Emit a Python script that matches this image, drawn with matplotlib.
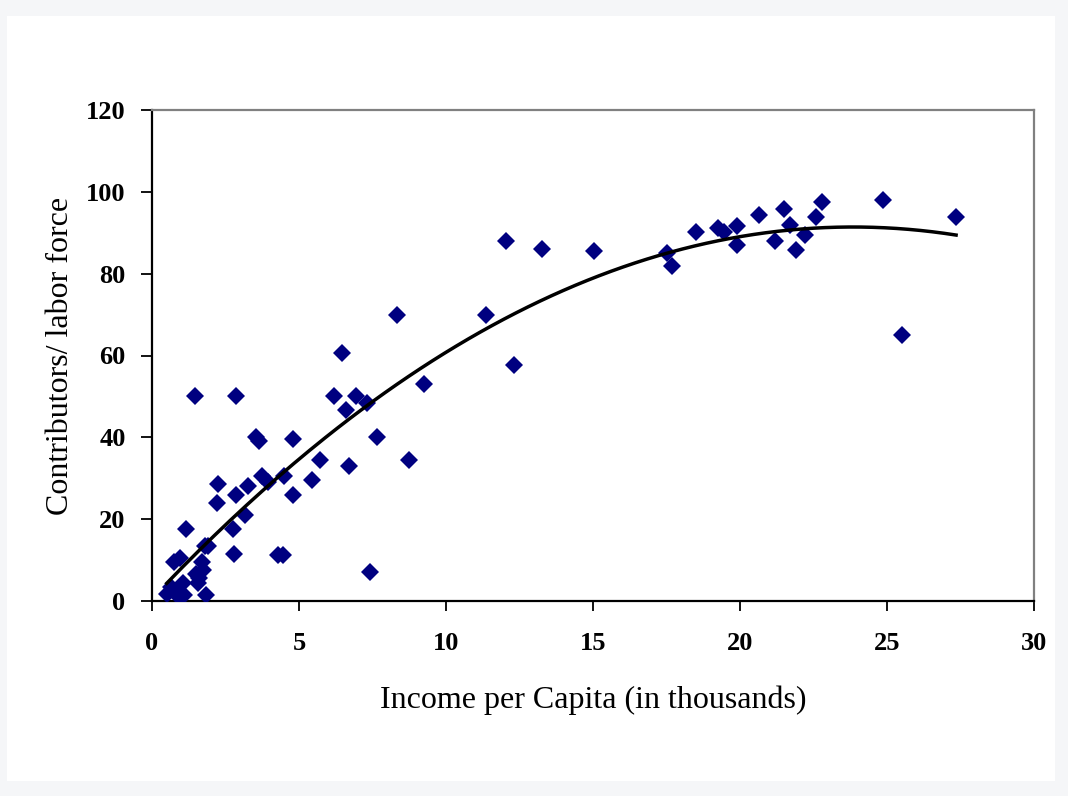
import numpy as np
import matplotlib.pyplot as plt
from matplotlib.patches import Rectangle

# income per capita (thousands) vs contributors / labor force
income = [0.5, 0.65, 0.75, 0.85, 0.95, 0.95, 1.05, 1.1, 1.15, 1.45, 1.5, 1.55, 1.6,
          1.7, 1.75, 1.8, 1.85, 1.9, 2.2, 2.25, 2.75, 2.8, 2.85, 2.85, 3.15, 3.25,
          3.55, 3.65, 3.75, 3.95, 4.3, 4.45, 4.5, 4.8, 4.8, 5.45, 5.7, 6.2, 6.45,
          6.6, 6.7, 6.95, 7.3, 7.4, 7.65, 8.35, 8.75, 9.25, 11.35, 12.05, 12.3,
          13.25, 15.05, 17.5, 17.7, 18.5, 19.25, 19.45, 19.9, 19.9, 20.65, 21.2,
          21.5, 21.7, 21.9, 22.2, 22.6, 22.8, 24.85, 25.5, 27.35]
contrib = [1.8, 3.5, 9.5, 2.5, 10.5, 0.8, 4.5, 1.5, 17.7, 50.0, 6.5, 4.5, 5.5,
           9.5, 7.5, 13.5, 1.5, 13.5, 24.0, 28.5, 17.5, 11.5, 50.0, 26.0, 21.0,
           28.0, 40.0, 39.0, 30.5, 29.0, 11.3, 11.3, 30.5, 39.5, 26.0, 29.5, 34.5,
           50.0, 60.5, 46.8, 33.0, 50.0, 48.5, 7.2, 40.0, 69.8, 34.5, 53.0, 69.8,
           88.0, 57.8, 86.0, 85.5, 85.0, 81.8, 90.2, 91.2, 90.2, 91.7, 87.0, 94.3,
           88.0, 95.9, 91.9, 85.9, 89.4, 93.8, 97.4, 98.0, 65.0, 93.8]

xticks = [0, 5, 10, 15, 20, 25, 30]
yticks = [0, 20, 40, 60, 80, 100, 120]

fig = plt.figure(figsize=(10.68, 7.96), dpi=100, facecolor="#f5f6f8")
fig.patches.append(Rectangle((7 / 1068, 15 / 796), 1048 / 1068, 765 / 796,
                             transform=fig.transFigure, facecolor="white",
                             edgecolor="none", zorder=-10))

ax = fig.add_axes([152 / 1068, 195 / 796, 882 / 1068, 491 / 796])
ax.set_zorder(5)
ax.set_facecolor("white")

ax.plot(income, contrib, "D", color="#000080", markersize=9, markeredgewidth=0,
        zorder=3)

# 2nd order polynomial trendline, as in the original spreadsheet chart
coef = np.polyfit(income, contrib, 2)
tx = np.linspace(min(income), max(income), 200)
ax.plot(tx, np.polyval(coef, tx), color="black", linewidth=2.5, zorder=4)

ax.set_xlim(0, 30)
ax.set_ylim(0, 120)
ax.set_xticks(xticks)
ax.set_yticks(yticks)

serif = "Liberation Serif"
ax.set_xticklabels([str(t) for t in xticks], fontfamily=serif, fontweight="bold",
                   fontsize=19)
ax.set_yticklabels([str(t) for t in yticks], fontfamily=serif, fontweight="bold",
                   fontsize=19)
ax.tick_params(axis="x", direction="out", length=7, width=1.3, pad=15)
ax.tick_params(axis="y", direction="out", length=8, width=1.3, pad=11)

for s in ["left", "bottom"]:
    ax.spines[s].set_color("black")
    ax.spines[s].set_linewidth(1.6)
for s in ["top", "right"]:
    ax.spines[s].set_color("#808080")
    ax.spines[s].set_linewidth(1.6)

ax.set_xlabel("Income per Capita (in thousands)", fontfamily=serif, fontsize=23,
              labelpad=22)
ax.set_ylabel("Contributors/ labor force", fontfamily=serif, fontsize=23,
              labelpad=8)

fig.savefig("out.png", dpi=100, facecolor=fig.get_facecolor())
